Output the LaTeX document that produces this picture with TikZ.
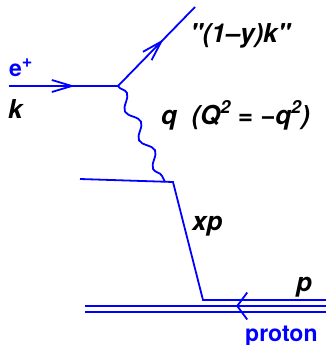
\documentclass[tikz,border=0pt]{standalone}
\usepackage{fontspec}
\setmainfont{TeX Gyre Heros}
\usepackage{tikz}
\usetikzlibrary{arrows.meta, decorations.pathmorphing, decorations.markings}

\newcommand{\upidx}[1]{\raisebox{0.42em}{\fontsize{18}{20}\selectfont #1}}

\begin{document}
\begin{tikzpicture}[
    x=1pt, y=-1pt,
    fermion/.style={draw=blue, line width=1.8pt},
    boson/.style={draw=blue, line width=1.8pt, decorate,
      decoration={snake, amplitude=5pt, segment length=32pt}},
    midarrow/.style={postaction={decorate}, decoration={markings,
      mark=at position #1 with {\arrow{Straight Barb[length=20pt, width=12pt, line width=1.8pt]}}}},
    backarrow/.style={postaction={decorate}, decoration={markings,
      mark=at position #1 with {\arrow{Straight Barb[length=10pt, width=27pt, line width=1.8pt]}}}},
    lab/.style={inner sep=0pt, anchor=base west, font=\fontsize{26}{30}\selectfont\bfseries\itshape},
    bluelab/.style={inner sep=0pt, anchor=base west, text=blue, font=\fontsize{23}{27}\selectfont\bfseries}
]
\useasboundingbox (0,0) rectangle (326,345);
% vertices
\coordinate (ein) at (9,86);
\coordinate (vtx) at (118,86);
\coordinate (eout) at (195,7);
\coordinate (gend) at (165,182);
\coordinate (qleft) at (80,179);
\coordinate (qvtx) at (173,182);
\coordinate (pvtx) at (203,300);
\coordinate (pright) at (326,300);
\coordinate (remleft) at (85,306);
\coordinate (remright) at (326,306);
\coordinate (remleftb) at (85,312);
\coordinate (remrightb) at (326,312);
% lines
\draw[fermion, midarrow=0.605] (ein) -- (vtx);
\draw[fermion, midarrow=0.59] (vtx) -- (eout);
\draw[boson] (vtx) -- (gend);
\draw[fermion] (qleft) -- (qvtx) -- (pvtx) -- (pright);
\draw[fermion, backarrow=0.373] (remright) -- (remleft);
\draw[fermion] (remleftb) -- (remrightb);
% labels
\node[bluelab] (positron) at (9,77) {e\upidx{+}};
\node[lab] (kin) at (8,118) {k};
\node[lab] (kout) at (190,43) {\textquotedbl(1–y)k\textquotedbl};
\node[lab] (photon) at (161,124) {q~~(Q\upidx{2} = −q\upidx{2})};
\node[lab] (quark) at (192,230) {xp};
\node[lab] (pmom) at (296,291) {p};
\node[bluelab] (proton) at (245,341) {proton};
\end{tikzpicture}
\end{document}
